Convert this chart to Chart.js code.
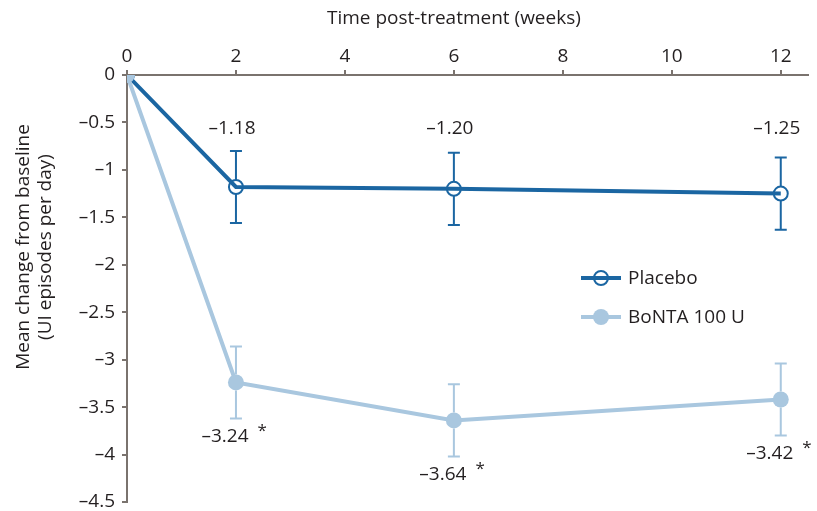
<!DOCTYPE html>
<html>
<head>
<meta charset="utf-8">
<script src="https://cdn.jsdelivr.net/npm/chart.js@4/dist/chart.umd.min.js"></script>
<style>
html,body{margin:0;padding:0;background:#fff;}
#wrap{width:817px;height:511px;position:relative;}
</style>
</head>
<body>
<div id="wrap"><canvas id="c" width="817" height="511"></canvas></div>
<script>
// ---- data ----
const weeks = [0, 2, 6, 12];
const placeboMean = [0, -1.18, -1.20, -1.25];
const placeboErr = [0, 0.38, 0.38, 0.38];
const bontaMean = [0, -3.24, -3.64, -3.42];
const bontaErr = [0, 0.38, 0.38, 0.38];
const bontaSignificant = [false, true, true, true];
const seriesNames = ['Placebo', 'BoNTA 100 U'];
const xTitle = 'Time post-treatment (weeks)';
const yTitleLines = ['Mean change from baseline', '(UI episodes per day)'];

const DARK = '#1b66a2';
const LIGHT = '#a9c7df';
const AXIS = '#7a736e';
const TEXT = '#231f20';
const FONT = '"Open Sans", "Noto Sans", sans-serif';
const FS = 19;

const dash = v => String(v).replace('-', '\u2013');

const errorBarPlugin = {
  id: 'errbars',
  afterDatasetsDraw(chart) {
    const ctx = chart.ctx;
    const xs = chart.scales.x, ys = chart.scales.y;
    const sets = [
      {m: placeboMean, e: placeboErr, c: DARK, r: 7},
      {m: bontaMean, e: bontaErr, c: LIGHT, r: 8}
    ];
    ctx.save();
    sets.forEach(s => {
      ctx.strokeStyle = s.c;
      ctx.lineWidth = 2;
      weeks.forEach((w, i) => {
        if (!s.e[i]) return;
        const px = xs.getPixelForValue(w);
        const py = ys.getPixelForValue(s.m[i]);
        const top = ys.getPixelForValue(s.m[i] + s.e[i]);
        const bot = ys.getPixelForValue(s.m[i] - s.e[i]);
        ctx.beginPath();
        ctx.moveTo(px, top); ctx.lineTo(px, py - s.r);
        ctx.moveTo(px, py + s.r); ctx.lineTo(px, bot);
        ctx.moveTo(px - 6, top); ctx.lineTo(px + 6, top);
        ctx.moveTo(px - 6, bot); ctx.lineTo(px + 6, bot);
        ctx.stroke();
      });
    });
    ctx.restore();
  }
};

const labelPlugin = {
  id: 'labels',
  afterDraw(chart) {
    const ctx = chart.ctx;
    const xs = chart.scales.x, ys = chart.scales.y;
    ctx.save();
    ctx.fillStyle = TEXT;
    ctx.font = FS + 'px ' + FONT;
    ctx.textBaseline = 'middle';
    ctx.textAlign = 'center';
    // placebo labels, aligned above the highest error bar
    let topVal = -Infinity;
    weeks.forEach((w, i) => { if (placeboErr[i]) topVal = Math.max(topVal, placeboMean[i] + placeboErr[i]); });
    const ly = ys.getPixelForValue(topVal) - 22;
    weeks.forEach((w, i) => {
      if (!placeboErr[i]) return;
      ctx.fillText(dash(placeboMean[i].toFixed(2)), xs.getPixelForValue(w) - 4, ly);
    });
    // bonta labels below their error bars
    weeks.forEach((w, i) => {
      if (!bontaErr[i]) return;
      const px = xs.getPixelForValue(w) - 11;
      const py = ys.getPixelForValue(bontaMean[i] - bontaErr[i]) + 18;
      const t = dash(bontaMean[i].toFixed(2));
      ctx.font = FS + 'px ' + FONT;
      ctx.textAlign = 'center';
      ctx.fillText(t, px, py);
      if (bontaSignificant[i]) {
        const wdt = ctx.measureText(t).width;
        ctx.textAlign = 'left';
        ctx.font = '17px ' + FONT;
        ctx.fillText('*', px + wdt / 2 + 9, py - 5);
      }
    });
    // axis titles
    ctx.font = FS + 'px ' + FONT;
    ctx.textAlign = 'center';
    ctx.fillText(xTitle, (xs.getPixelForValue(0) + xs.getPixelForValue(12)) / 2, 19);
    ctx.save();
    ctx.translate(24, 247);
    ctx.rotate(-Math.PI / 2);
    ctx.fillText(yTitleLines[0], 0, 0);
    ctx.fillText(yTitleLines[1], 0, 22);
    ctx.restore();
    // legend
    const rows = [
      {name: seriesNames[0], c: DARK, fill: false, r: 7, y: 278},
      {name: seriesNames[1], c: LIGHT, fill: true, r: 8, y: 317}
    ];
    rows.forEach(r => {
      ctx.strokeStyle = r.c;
      ctx.lineWidth = 4;
      ctx.beginPath(); ctx.moveTo(581, r.y); ctx.lineTo(621, r.y); ctx.stroke();
      ctx.beginPath(); ctx.arc(601, r.y, r.r, 0, Math.PI * 2);
      if (r.fill) { ctx.fillStyle = r.c; ctx.fill(); }
      else { ctx.lineWidth = 2; ctx.stroke(); }
      ctx.fillStyle = TEXT;
      ctx.font = FS + 'px ' + FONT;
      ctx.textAlign = 'left';
      ctx.fillText(r.name, 628, r.y + 1);
    });
    ctx.restore();
  }
};

new Chart(document.getElementById('c'), {
  type: 'line',
  data: {
    datasets: [
      {
        label: seriesNames[0],
        data: weeks.map((w, i) => ({x: w, y: placeboMean[i]})),
        borderColor: DARK, borderWidth: 4,
        pointRadius: 7, pointBorderWidth: 2,
        pointBackgroundColor: 'rgba(0,0,0,0)', pointBorderColor: DARK,
        order: 1
      },
      {
        label: seriesNames[1],
        data: weeks.map((w, i) => ({x: w, y: bontaMean[i]})),
        borderColor: LIGHT, borderWidth: 4,
        pointRadius: 8, pointBorderWidth: 0,
        pointBackgroundColor: LIGHT, pointBorderColor: LIGHT,
        order: 0
      }
    ]
  },
  options: {
    responsive: false,
    animation: false,
    layout: {padding: {left: 0, right: 3, top: 0, bottom: 8}},
    plugins: {legend: {display: false}, tooltip: {enabled: false}},
    scales: {
      x: {
        type: 'linear', position: 'top', min: 0, max: 12.5,
        afterFit: s => { s.height = 75; s.paddingLeft = 0; s.paddingRight = 0; },
        ticks: {stepSize: 2, includeBounds: false, color: TEXT, font: {size: FS, family: FONT}, padding: 2, maxRotation: 0},
        grid: {drawOnChartArea: false, drawTicks: true, tickLength: 5, color: AXIS, lineWidth: 2},
        border: {color: AXIS, width: 2}
      },
      y: {
        min: -4.5, max: 0,
        afterFit: s => { s.width = 127; s.paddingTop = 0; s.paddingBottom = 0; },
        ticks: {stepSize: 0.5, color: TEXT, font: {size: FS, family: FONT}, padding: 7, callback: v => dash(v)},
        grid: {drawOnChartArea: false, drawTicks: true, tickLength: 5, color: AXIS, lineWidth: 2},
        border: {color: AXIS, width: 2}
      }
    }
  },
  plugins: [errorBarPlugin, labelPlugin]
});
</script>
</body>
</html>
